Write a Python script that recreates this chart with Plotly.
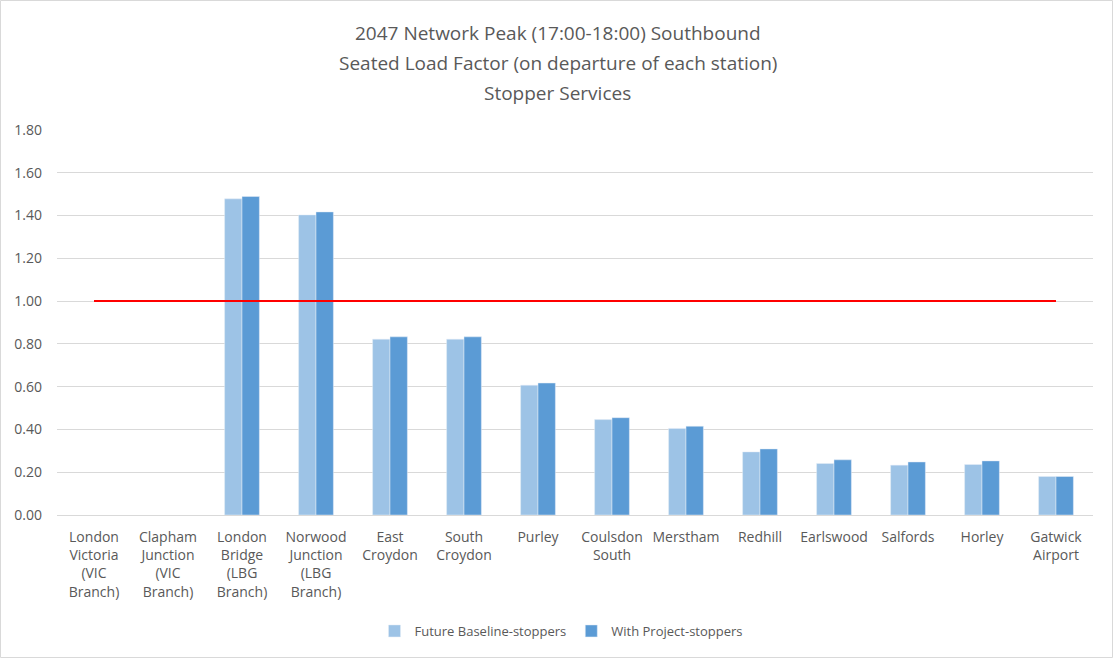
import plotly.graph_objects as go

categories = [
    "London<br>Victoria<br>(VIC<br>Branch)",
    "Clapham<br>Junction<br>(VIC<br>Branch)",
    "London<br>Bridge<br>(LBG<br>Branch)",
    "Norwood<br>Junction<br>(LBG<br>Branch)",
    "East<br>Croydon",
    "South<br>Croydon",
    "Purley",
    "Coulsdon<br>South",
    "Merstham",
    "Redhill",
    "Earlswood",
    "Salfords",
    "Horley",
    "Gatwick<br>Airport",
]
baseline = [None, None, 1.478, 1.403, 0.822, 0.822, 0.607, 0.446, 0.405, 0.295, 0.241, 0.233, 0.236, 0.180]
with_project = [None, None, 1.489, 1.417, 0.833, 0.833, 0.617, 0.455, 0.415, 0.309, 0.258, 0.248, 0.253, 0.180]
threshold = [1.0] * len(categories)
y_ticks = [0, 0.2, 0.4, 0.6, 0.8, 1.0, 1.2, 1.4, 1.6, 1.8]
title_lines = [
    "2047 Network Peak (17:00-18:00) Southbound",
    "Seated Load Factor (on departure of each station)",
    "Stopper Services",
]

FONT = "Open Sans"
GREY = "#595959"
W, H = 1115, 658
ML, MR, MT, MB = 57, 22, 130, 143
PW = W - ML - MR
PH = H - MT - MB


def py(p):
    return (H - MB - p) / PH


def px(p):
    return (p - ML) / PW


fig = go.Figure()
fig.add_trace(go.Bar(x=categories, y=baseline, name="Future Baseline-stoppers",
                     marker=dict(color="#9DC3E6")))
fig.add_trace(go.Bar(x=categories, y=with_project, name="With Project-stoppers",
                     marker=dict(color="#5B9BD5")))
fig.add_trace(go.Scatter(x=categories, y=threshold, mode="lines", showlegend=False,
                         line=dict(color="#FF0000", width=2), hoverinfo="skip"))

annotations = []
for i, t in enumerate(title_lines):
    annotations.append(dict(text=t, xref="paper", yref="paper", x=px(557.5), y=py(33 + 30 * i),
                            xanchor="center", yanchor="middle", showarrow=False,
                            font=dict(family=FONT, size=19, color=GREY)))

fig.update_layout(
    width=W, height=H,
    paper_bgcolor="white", plot_bgcolor="white",
    font=dict(family=FONT, color=GREY, size=13),
    barmode="group", bargap=0.53, bargroupgap=0,
    margin=dict(l=ML, r=MR, t=MT, b=MB),
    legend=dict(orientation="h", x=px(561), xanchor="center", y=py(631), yanchor="middle",
                font=dict(size=13, color=GREY), itemwidth=30),
    xaxis=dict(showgrid=False, ticks="", showline=False, tickangle=0,
               ticklabelstandoff=12,
               tickfont=dict(size=14, color=GREY)),
    yaxis=dict(range=[0, 1.8], tickvals=y_ticks, tickformat=".2f",
               showgrid=True, gridcolor="#D9D9D9", gridwidth=1,
               zeroline=True, zerolinecolor="#D9D9D9", zerolinewidth=1,
               showline=False, ticks="", ticklabelstandoff=14,
               tickfont=dict(size=14, color=GREY)),
    annotations=annotations,
    shapes=[dict(type="rect", xref="paper", yref="paper",
                 x0=px(0.5), x1=px(1112.5), y0=py(657.5), y1=py(0.5),
                 line=dict(color="#D9D9D9", width=1))],
)

fig.write_html("out.html", config={"displayModeBar": False})

with open("out.html", "r", encoding="utf-8") as f:
    html = f.read()
html = html.replace("<head>", "<head><style>html,body{margin:0;padding:0;overflow:hidden;}</style>", 1)
with open("out.html", "w", encoding="utf-8") as f:
    f.write(html)
